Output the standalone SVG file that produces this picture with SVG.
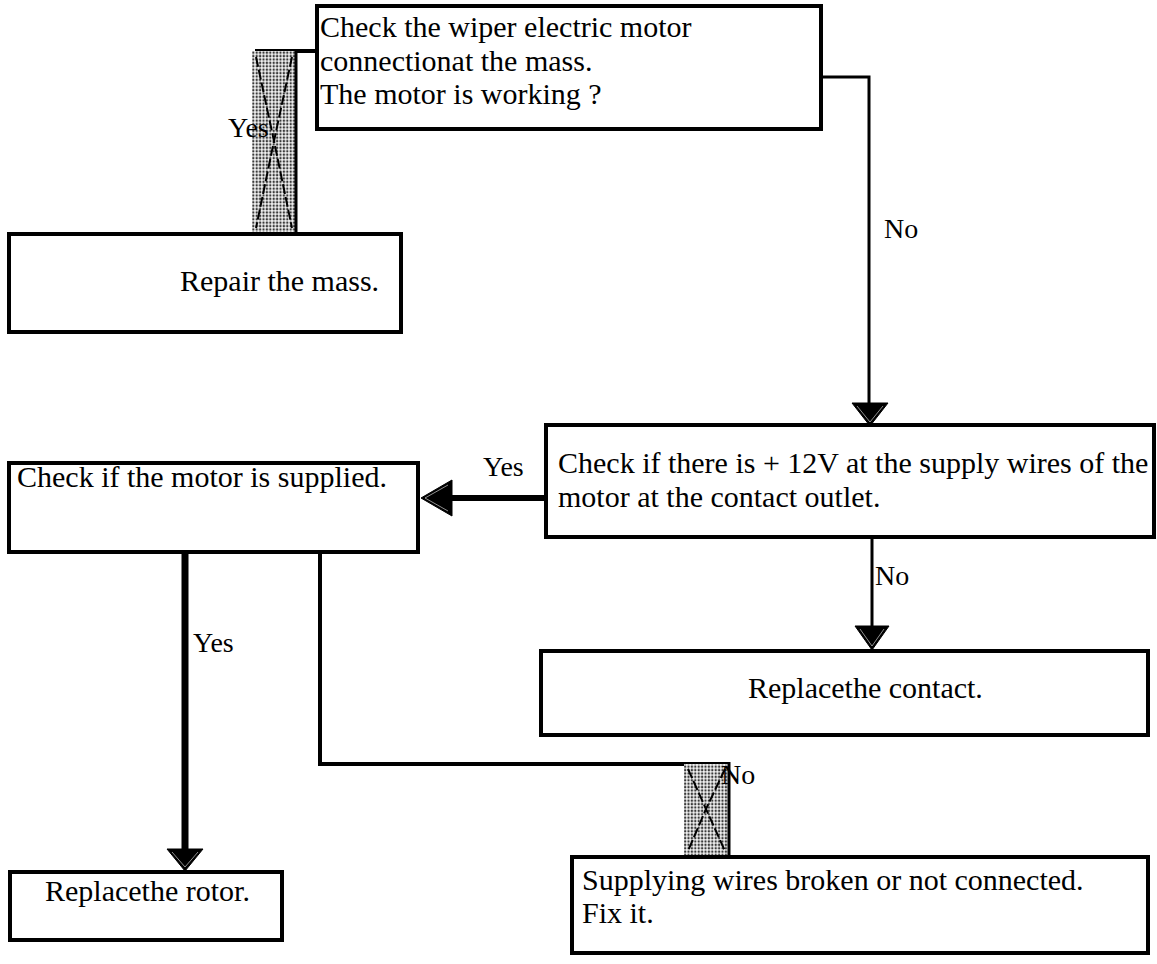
<svg xmlns="http://www.w3.org/2000/svg" width="1157" height="964" viewBox="0 0 1157 964">
  <style>
    .box { fill: #ffffff; stroke: #000000; stroke-width: 4; }
    .txt { font-family: "Liberation Serif", "Times New Roman", serif; font-size: 30px; fill: #000000; }
    .lbl { font-family: "Liberation Serif", "Times New Roman", serif; font-size: 28px; fill: #000000; }
    .wire { fill: none; stroke: #000000; stroke-linecap: butt; stroke-linejoin: miter; }
    .head { fill: #000000; stroke: #000000; stroke-width: 1; }
    .head-edge { fill: none; stroke: #ffffff; stroke-width: 0.8; opacity: 0.7; }
    .hatch { fill: url(#dots); }
    .cross { fill: none; stroke: #000000; stroke-width: 2; stroke-dasharray: 10 3; }
  </style>
  <defs>
    <!-- halftone fill for the masked connector runs -->
    <pattern id="dots" width="3.4" height="3.4" patternUnits="userSpaceOnUse">
      <rect width="3.4" height="3.4" fill="#f2f2f2"/>
      <circle cx="1.7" cy="1.7" r="1.2" fill="#3a3a3a"/>
    </pattern>
  </defs>

  <rect width="1157" height="964" fill="#ffffff"/>

  <!-- connectors -->
  <g id="connectors">
    <!-- top box to mass repair (masked run) -->
    <line class="wire" x1="255" y1="51" x2="317" y2="51" stroke-width="4"/>
    <rect class="hatch" x="252" y="51" width="44" height="181"/>
    <line class="wire" x1="296" y1="49" x2="296" y2="232" stroke-width="3"/>
    <path class="cross" d="M256 57 L274 141 L292 228 M292 57 L274 141 L256 228"/>
    <text class="lbl" x="228" y="137">Yes</text>

    <!-- top box, No branch -->
    <polyline class="wire" points="820,77 869,77 869,405" stroke-width="3"/>
    <polygon class="head" points="852,403 888,403 870,426"/>
    <polyline class="head-edge" points="857,406 870,422 883,406"/>
    <text class="lbl" x="884" y="238">No</text>

    <!-- 12V check, Yes branch -->
    <line class="wire" x1="546" y1="498" x2="448" y2="498" stroke-width="6"/>
    <polygon class="head" points="452,480 452,516 421,498"/>
    <polyline class="head-edge" points="448,485 425,498 448,511"/>
    <text class="lbl" x="483" y="476">Yes</text>

    <!-- 12V check, No branch -->
    <line class="wire" x1="872" y1="537" x2="872" y2="628" stroke-width="3"/>
    <polygon class="head" points="855,626 889,626 872,650"/>
    <polyline class="head-edge" points="860,629 872,646 884,629"/>
    <text class="lbl" x="875" y="585">No</text>

    <!-- supplied check, Yes branch -->
    <line class="wire" x1="185" y1="552" x2="185" y2="850" stroke-width="7"/>
    <polygon class="head" points="167,849 203,849 185,871"/>
    <polyline class="head-edge" points="172,852 185,867 198,852"/>
    <text class="lbl" x="193" y="652">Yes</text>

    <!-- supplied check, No branch (masked run) -->
    <polyline class="wire" points="320,552 320,764 729,764" stroke-width="4"/>
    <rect class="hatch" x="684" y="764" width="45" height="91"/>
    <line class="wire" x1="729" y1="762" x2="729" y2="856" stroke-width="3"/>
    <path class="cross" d="M688 769 L706 809 L725 851 M725 769 L706 809 L688 851"/>
    <text class="lbl" x="721" y="784">No</text>
  </g>

  <g id="node-check-mass">
    <rect class="box" x="317" y="6" width="504" height="123"/>
    <text class="txt" x="320" y="37">Check the wiper electric motor</text>
    <text class="txt" x="320" y="71">connectionat the mass.</text>
    <text class="txt" x="320" y="104">The motor is working ?</text>
  </g>

  <g id="node-repair-mass">
    <rect class="box" x="9" y="234" width="392" height="98"/>
    <text class="txt" x="180" y="291">Repair the mass.</text>
  </g>

  <g id="node-check-12v">
    <rect class="box" x="546" y="425" width="608" height="112"/>
    <text class="txt" x="558" y="473">Check if there is + 12V at the supply wires of the</text>
    <text class="txt" x="558" y="507">motor at the contact outlet.</text>
  </g>

  <g id="node-check-supplied">
    <rect class="box" x="9" y="463" width="409" height="89"/>
    <text class="txt" x="17" y="487">Check if the motor is supplied.</text>
  </g>

  <g id="node-replace-contact">
    <rect class="box" x="541" y="651" width="607" height="84"/>
    <text class="txt" x="748" y="698">Replacethe contact.</text>
  </g>

  <g id="node-replace-rotor">
    <rect class="box" x="10" y="872" width="272" height="68"/>
    <text class="txt" x="45" y="901">Replacethe rotor.</text>
  </g>

  <g id="node-fix-wires">
    <rect class="box" x="572" y="857" width="576" height="96"/>
    <text class="txt" x="582" y="890">Supplying wires broken or not connected.</text>
    <text class="txt" x="582" y="923">Fix it.</text>
  </g>
</svg>
